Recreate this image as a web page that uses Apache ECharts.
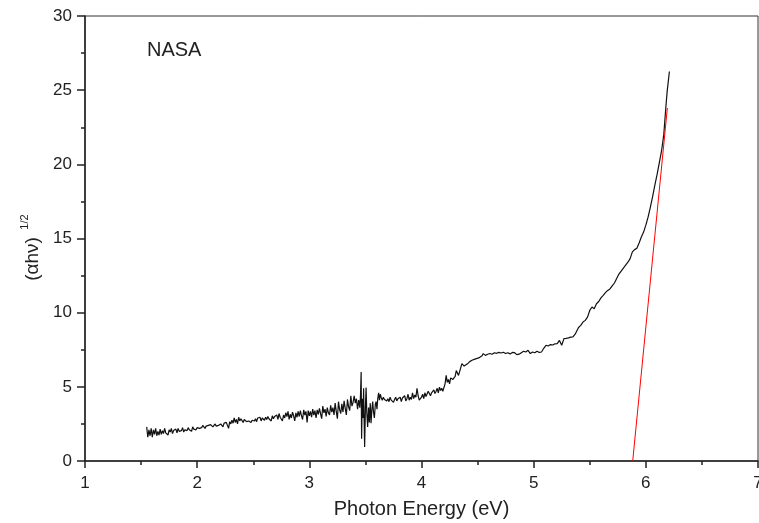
<!DOCTYPE html>
<html>
<head>
<meta charset="utf-8">
<script src="https://cdn.jsdelivr.net/npm/echarts@6/dist/echarts.min.js"></script>
<style>
html,body{margin:0;padding:0;background:#fff;}
#chart{width:759px;height:523px;}
</style>
</head>
<body>
<div id="chart"></div>
<script>
// Measured spectrum: photon energy (eV)
var energy = [
1.55,1.56,1.57,1.58,1.59,
1.60,1.61,1.62,1.63,1.64,1.65,1.66,1.67,1.68,1.69,
1.70,1.71,1.72,1.73,1.74,1.75,1.76,1.77,1.78,1.79,
1.80,1.81,1.82,1.83,1.84,1.85,1.86,1.87,1.88,1.89,
1.90,1.91,1.92,1.93,1.94,1.95,1.96,1.97,1.98,1.99,
2.00,2.01,2.02,2.03,2.04,2.05,2.06,2.07,2.08,2.09,
2.10,2.11,2.12,2.13,2.14,2.15,2.16,2.17,2.18,2.19,
2.20,2.21,2.22,2.23,2.24,2.25,2.26,2.27,2.28,2.29,
2.30,2.31,2.32,2.33,2.34,2.35,2.36,2.37,2.38,2.39,
2.40,2.41,2.42,2.43,2.44,2.45,2.46,2.47,2.48,2.49,
2.50,2.51,2.52,2.53,2.54,2.55,2.56,2.57,2.58,2.59,
2.60,2.61,2.62,2.63,2.64,2.65,2.66,2.67,2.68,2.69,
2.70,2.71,2.72,2.73,2.74,2.75,2.76,2.77,2.78,2.79,
2.80,2.81,2.82,2.83,2.84,2.85,2.86,2.87,2.88,2.89,
2.90,2.91,2.92,2.93,2.94,2.95,2.96,2.97,2.98,2.99,
3.00,3.01,3.02,3.03,3.04,3.05,3.06,3.07,3.08,3.09,
3.10,3.11,3.12,3.13,3.14,3.15,3.16,3.17,3.18,3.19,
3.20,3.21,3.22,3.23,3.24,3.25,3.26,3.27,3.28,3.29,
3.30,3.31,3.32,3.33,3.34,3.35,3.36,3.37,3.38,3.39,
3.40,3.41,3.42,3.43,3.44,
3.450,3.456,3.462,3.466,3.472,3.478,3.484,3.488,3.493,3.500,
3.506,3.512,3.520,3.528,3.535,3.543,3.550,3.558,3.565,3.572,
3.580,3.588,3.595,3.603,3.610,3.618,3.625,3.633,3.640,
3.65,3.66,3.67,3.68,3.69,
3.70,3.71,3.72,3.73,3.74,3.75,3.76,3.77,3.78,3.79,
3.80,3.81,3.82,3.83,3.84,3.85,3.86,3.87,3.88,3.89,
3.90,3.91,3.92,3.93,3.94,3.95,3.96,3.97,3.98,3.99,
4.00,4.01,4.02,4.03,4.04,4.05,4.06,4.07,4.08,4.09,
4.10,4.11,4.12,4.13,4.14,4.15,4.16,4.17,4.18,4.19,
4.20,4.21,4.22,4.23,4.24,4.25,4.26,4.27,4.28,4.29,
4.30,
4.31,4.33,4.35,4.36,4.38,4.39,4.41,4.43,4.45,4.47,
4.49,4.51,4.52,4.54,4.55,4.57,4.59,4.61,4.63,4.65,
4.67,4.69,4.71,4.73,4.75,4.77,4.79,4.81,4.83,4.85,
4.87,4.89,4.91,4.93,4.95,4.97,4.99,5.01,5.03,5.05,
5.07,5.09,5.11,5.13,5.15,5.17,5.19,5.21,5.23,5.25,
5.27,5.29,5.31,5.33,5.35,5.37,5.38,5.40,5.42,5.44,
5.46,5.48,5.50,5.52,5.54,5.56,5.58,5.60,5.62,5.64,
5.66,5.68,5.70,5.72,5.74,5.76,5.78,5.80,5.82,5.84,
5.86,5.88,5.90,5.92,5.94,5.96,5.98,6.00,6.02,6.04,
6.06,6.08,6.10,6.12,6.14,6.16,6.18,6.19,6.21
];
// (alpha h nu)^(1/2)
var tauc = [
2.3,1.6,2.1,1.7,2.2,
1.6,2.1,1.8,2.2,1.7,2.0,1.75,2.15,1.8,2.05,
1.85,2.2,1.9,2.0,1.75,2.1,1.95,2.2,1.85,2.05,
2.0,2.15,1.9,2.2,2.0,2.1,2.05,2.25,1.95,2.1,
2.15,2.05,2.25,2.1,2.2,2.0,2.3,2.15,2.2,2.1,
2.25,2.35,2.2,2.3,2.25,2.4,2.3,2.2,2.35,2.3,
2.4,2.3,2.45,2.35,2.3,2.4,2.5,2.35,2.45,2.4,
2.35,2.5,2.4,2.3,2.55,2.45,2.6,2.4,2.2,2.65,
2.5,2.75,2.55,2.9,2.6,2.8,2.5,2.95,2.7,2.85,
2.75,2.6,2.8,2.7,2.65,2.75,2.7,2.8,2.6,2.75,
2.8,2.7,2.85,2.65,2.9,2.8,2.95,2.7,2.9,2.85,
2.75,2.95,2.8,3.0,2.85,2.9,2.7,3.05,2.85,3.0,
2.9,3.1,2.8,3.2,2.95,3.05,2.7,3.1,2.9,3.25,
3.0,3.35,2.8,3.15,2.9,3.3,3.05,2.7,3.25,2.95,
3.35,3.0,3.4,3.05,2.8,3.45,3.1,3.35,2.6,3.4,
3.05,3.35,2.95,3.5,3.1,3.4,2.9,3.45,3.15,3.55,
3.2,2.85,3.7,3.25,3.5,3.0,3.6,3.25,3.1,3.75,
3.3,3.6,3.1,3.9,3.35,2.85,4.0,3.45,3.2,3.85,
3.3,4.05,3.55,3.1,4.15,3.65,3.4,4.4,3.7,3.95,
4.4,3.9,4.2,3.5,4.1,
3.6,4.4,6.0,1.5,4.2,2.9,4.9,3.0,0.95,3.6,
4.95,3.3,2.3,3.6,2.6,3.9,2.55,3.5,4.0,3.3,
2.9,3.8,4.0,3.5,4.2,4.6,4.1,4.5,4.3,
4.1,4.3,4.15,4.25,4.05,
4.2,4.0,4.3,4.1,4.2,3.95,4.15,4.3,4.05,4.2,
4.1,4.3,4.0,4.25,4.15,4.4,4.05,4.2,4.5,4.1,
4.3,4.15,4.6,4.2,4.45,4.3,4.9,4.4,4.1,3.98,
4.3,4.5,4.2,4.6,4.35,4.45,4.7,4.76,4.4,4.6,
4.5,4.8,4.55,4.7,4.9,4.6,4.98,4.75,4.9,4.7,
4.65,5.2,5.77,5.3,5.5,5.2,5.6,5.66,5.5,5.6,
5.7,
6.1,5.77,6.3,6.56,6.4,6.33,6.55,6.7,6.79,6.85,
6.9,6.95,6.99,7.1,7.24,7.12,7.2,7.25,7.2,7.3,
7.26,7.32,7.28,7.33,7.25,7.3,7.22,7.32,7.3,7.17,
7.2,7.3,7.4,7.35,7.46,7.24,7.35,7.3,7.4,7.32,
7.35,7.6,7.8,7.75,7.85,7.82,7.9,7.91,8.13,7.8,
8.25,8.27,8.3,8.35,8.36,8.55,8.7,9.0,9.14,9.37,
9.48,9.7,10.15,10.38,10.27,10.6,10.75,11.0,11.17,11.35,
11.5,11.6,11.8,12.0,12.3,12.6,12.8,13.0,13.2,13.4,
13.64,14.1,14.25,14.35,14.7,15.1,15.43,15.9,16.44,17.1,
17.8,18.58,19.3,20.1,20.9,22.0,24.0,24.9,26.26
];
// Linear fit (red) end points
var fitEnergy = [5.883, 6.192];
var fitValue = [0, 23.8];
// Axis ticks
var xTicks = [1, 2, 3, 4, 5, 6, 7];
var yTicks = [0, 5, 10, 15, 20, 25, 30];

var curve = energy.map(function (e, i) { return [e, tauc[i]]; });
var fit = fitEnergy.map(function (e, i) { return [e, fitValue[i]]; });

var FONT = '"Liberation Sans", Arial, sans-serif';
var chart = echarts.init(document.getElementById('chart'), null, {renderer: 'canvas'});
chart.setOption({
  animation: false,
  backgroundColor: '#ffffff',
  grid: {left: 85, right: 1, top: 16, bottom: 62, outerBoundsMode: 'none', containLabel: false,
         show: true, borderColor: '#333', borderWidth: 1, backgroundColor: 'transparent'},
  xAxis: {
    type: 'value', min: xTicks[0], max: xTicks[xTicks.length - 1], interval: 1,
    axisLine: {show: true, onZero: false, lineStyle: {color: '#222', width: 1.5}},
    axisTick: {show: true, inside: false, length: 7, lineStyle: {color: '#222', width: 1.5}},
    minorTick: {show: true, splitNumber: 2, length: 4, lineStyle: {color: '#222', width: 1.5}},
    splitLine: {show: false},
    axisLabel: {color: '#222', fontSize: 17, fontFamily: FONT, margin: 14},
    name: 'Photon Energy (eV)', nameLocation: 'middle', nameGap: 38,
    nameTextStyle: {color: '#222', fontSize: 20, fontFamily: FONT}
  },
  yAxis: {
    type: 'value', min: yTicks[0], max: yTicks[yTicks.length - 1], interval: 5,
    axisLine: {show: true, onZero: false, lineStyle: {color: '#222', width: 1.5}},
    axisTick: {show: true, inside: false, length: 8, lineStyle: {color: '#222', width: 1.5}},
    minorTick: {show: true, splitNumber: 2, length: 4, lineStyle: {color: '#222', width: 1.5}},
    splitLine: {show: false},
    axisLabel: {color: '#222', fontSize: 17, fontFamily: FONT, margin: 13}
  },
  graphic: [
    {type: 'text', left: 147, top: 40, style: {text: 'NASA', fill: '#222', font: '20px ' + FONT}},
    {type: 'text', x: 33, y: 259, rotation: Math.PI / 2, style: {text: '(\u03b1h\u03bd)', fill: '#222', font: '19px ' + FONT, align: 'center', verticalAlign: 'middle'}},
    {type: 'text', x: 25, y: 222, rotation: Math.PI / 2, style: {text: '1/2', fill: '#222', font: '11px ' + FONT, align: 'center', verticalAlign: 'middle'}}
  ],
  series: [
    {type: 'line', data: curve, showSymbol: false, symbol: 'none', lineStyle: {color: '#111', width: 1.2}, z: 3},
    {type: 'line', data: fit, showSymbol: false, symbol: 'none', lineStyle: {color: '#ff0000', width: 1}, z: 4}
  ]
});
</script>
</body>
</html>
